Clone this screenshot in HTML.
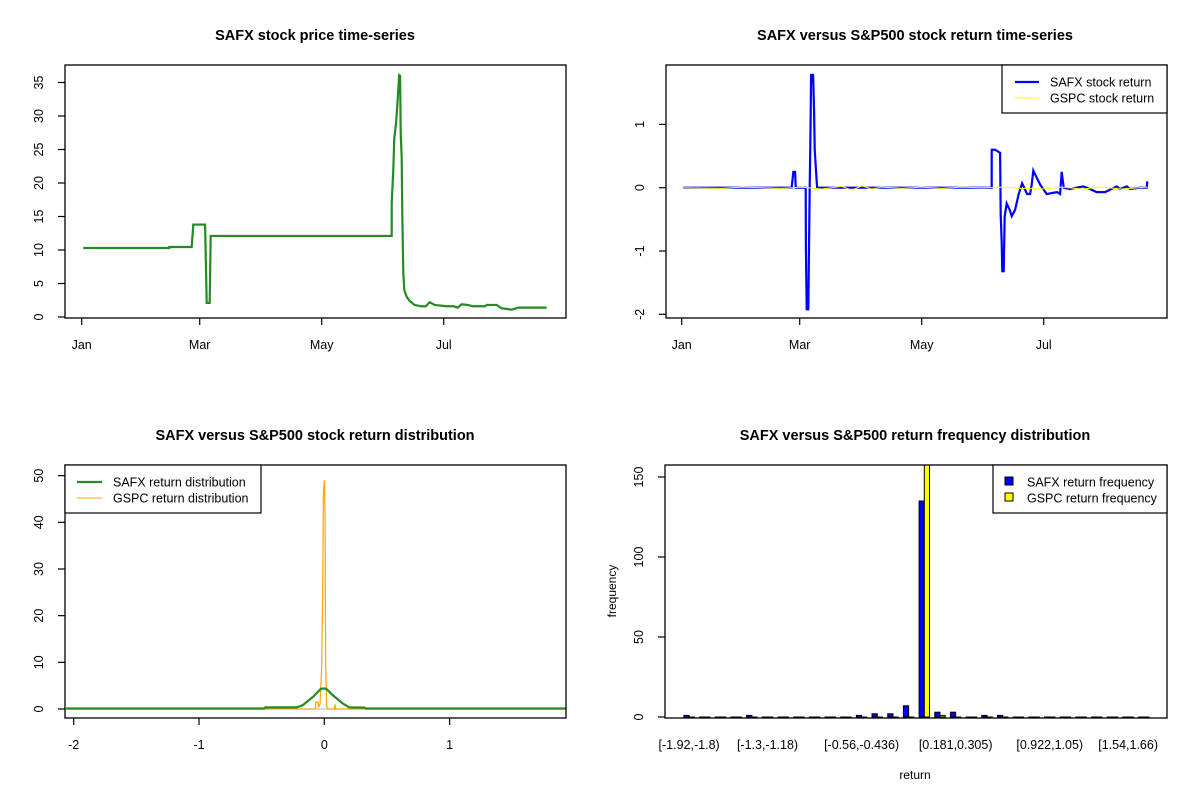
<!DOCTYPE html>
<html><head><meta charset="utf-8"><style>
html,body{margin:0;padding:0;background:#fff;}
svg{display:block;font-family:"Liberation Sans",Arial,sans-serif;}
</style></head><body>
<svg id="c" width="1200" height="800" viewBox="0 0 1200 800" xmlns="http://www.w3.org/2000/svg"></svg>
<script>
// ---- Panel 1: SAFX price (day of year, price)
const priceDays=[0.8,43.8,43.8,55,55.8,61.7,62.5,64,64.5,65,155,155,155.8,156.3,157.2,157.8,158.3,158.7,159.2,159.5,160,160.3,160.8,161.3,162.5,164,166.5,169.8,172,174,176.5,182.3,186,188,190,193,195.8,201.7,202.5,207.5,210,215,218.3,232.5];
const priceVals=[10.3,10.3,10.45,10.45,13.8,13.8,2.1,2.1,12.1,12.1,12.1,17,22,26.7,29,31.6,33.9,36.1,36,27.5,23.7,15.2,6.6,4,3,2.4,1.8,1.6,1.6,2.2,1.8,1.6,1.6,1.4,1.9,1.8,1.6,1.6,1.8,1.8,1.3,1.1,1.4,1.4];
const priceTicks=[0,5,10,15,20,25,30,35];
const monthDays=[0,59,120,181];
const monthLabels=["Jan","Mar","May","Jul"];
// ---- Panel 2: returns
const retDays=[0.8,55,55.8,56.7,57,62,62.1,62.5,63.3,64,64.4,64.7,65.7,66.2,66.5,67.7,155,155,156.7,159.2,159.5,160,160.3,161,161.5,162.5,164,165,166.7,168.5,170.2,172.7,174.2,175,175.8,179.2,182.5,187.5,188.3,189.2,190,191,194.2,200.8,204.2,207.5,211.7,217.5,219.2,222.5,224.2,229.2,232.5,232.8];
const retSafx=[0,0,0.25,0.25,0,0,-0.96,-1.92,-1.92,0,0.88,1.78,1.78,1.2,0.6,0,0,0.6,0.6,0.55,-0.42,-0.87,-1.32,-1.32,-0.45,-0.25,-0.35,-0.45,-0.35,-0.1,0.07,-0.1,-0.1,0.05,0.27,0.05,-0.1,-0.07,-0.08,-0.1,0.25,0,-0.02,0.02,-0.02,-0.07,-0.07,0.02,-0.02,0.02,-0.02,0,0,0.1];
const retGspcDays=[0.8,20,30,50,60,70,80,85,90,95,100,110,120,130,140,150,160,170,180,190,200,210,220,232.8];
const retGspc=[0,-0.01,0.01,-0.01,0.01,-0.02,0.02,-0.04,0.03,-0.02,0.01,-0.01,0.01,-0.01,0.01,0,0.01,-0.01,-0.02,0.01,-0.02,0.01,-0.02,0.01];
const retTicks=[-2,-1,0,1];
// ---- Panel 3: densities
const densSafxX=[-2.06,-0.48,-0.47,-0.22,-0.17,-0.09,-0.027,0.013,0.066,0.146,0.2,0.32,0.33,1.93];
const densSafxY=[0.1,0.1,0.35,0.35,0.85,2.6,4.35,4.4,3,1.2,0.35,0.3,0.1,0.1];
const densGspcX=[-2.06,-0.07,-0.068,-0.05,-0.045,-0.034,-0.021,-0.013,-0.0075,0.0005,0.006,0.011,0.019,0.03,0.08,0.085,0.09,1.93];
const densGspcY=[0,0,1.5,1.5,0.5,1,9,25,46,49,41,9,0.5,0,0,1,0,0];
const densTicksY=[0,10,20,30,40,50];
const densTicksX=[-2,-1,0,1];
// ---- Panel 4: frequency bars
const freqSafx=[1,0,0,0,1,0,0,0,0,0,0,1,2,2,7,135,3,3,0,1,1,0,0,0,0,0,0,0,0,0];
const freqGspc=[0,0,0,0,0,0,0,0,0,0,0,0,0,0,0,170,1,0,0,0,0,0,0,0,0,0,0,0,0,0];
const binLabelIdx=[0,5,11,17,23,28];
const binLabels=["[-1.92,-1.8)","[-1.3,-1.18)","[-0.56,-0.436)","[0.181,0.305)","[0.922,1.05)","[1.54,1.66)"];
const freqTicks=[0,50,100,150];

const NS="http://www.w3.org/2000/svg";
const svg=document.getElementById("c");
function mk(tag,attrs,parent,txt){const e=document.createElementNS(NS,tag);for(const k in attrs)e.setAttribute(k,attrs[k]);if(txt!==undefined)e.textContent=txt;(parent||svg).appendChild(e);return e;}
function poly(xs,ys,fx,fy){return xs.map((v,i)=>fx(v).toFixed(2)+","+fy(ys[i]).toFixed(2)).join(" ");}

const p1x=d=>81.7+d*2.0, p1y=v=>317-v*6.7;
const p2x=d=>681.7+d*2.0, p2y=v=>187.7-v*63.3;
const p3x=v=>324.3+v*125.3, p3y=v=>709-v*4.667;
const p4x=u=>665.3+(u+2.56)*5.226, p4y=v=>717-v*1.6;

function title(x,y,t,name){const e=mk("text",{x:x,y:y,"text-anchor":"middle","font-size":"14.5","font-weight":"bold"},svg,t);

}
function box(x1,y1,x2,y2,name){const e=mk("rect",{x:x1,y:y1,width:x2-x1,height:y2-y1,fill:"none",stroke:"#000","stroke-width":1.3});

}
function yaxis(ticks,fy,xb,name,fmt){const g=mk("g",{});


ticks.forEach(t=>{const y=fy(t);mk("line",{x1:xb-7,x2:xb,y1:y,y2:y,stroke:"#000","stroke-width":1.2},g);
const tx=mk("text",{x:xb-22,y:y,"text-anchor":"middle","font-size":"12.5",transform:`rotate(-90 ${xb-22} ${y})`},g,fmt?fmt(t):String(t));

});}
function xaxis(vals,labels,fx,yb,name){const g=mk("g",{});


vals.forEach((v,i)=>{const x=fx(v);mk("line",{x1:x,x2:x,y1:yb,y2:yb+7,stroke:"#000","stroke-width":1.2},g);
const tx=mk("text",{x:x,y:yb+31,"text-anchor":"middle","font-size":"12.5"},g,labels[i]);

});}

// ===== Panel 1
title(315,40,"SAFX stock price time-series","price-chart-title");
box(65,65,566,318,"price-plot-frame");
yaxis(priceTicks,p1y,65,"price-y-axis");
xaxis(monthDays,monthLabels,p1x,318,"price-x-axis");
const l1=mk("polyline",{points:poly(priceDays,priceVals,p1x,p1y),fill:"none",stroke:"#228B22","stroke-width":2.2});



// ===== Panel 2
title(915,40,"SAFX versus S&P500 stock return time-series","return-chart-title");
box(666,65,1167,318,"return-plot-frame");
yaxis(retTicks,p2y,666,"return-y-axis");
xaxis(monthDays,monthLabels,p2x,318,"return-x-axis");
const l2=mk("polyline",{points:poly(retDays,retSafx,p2x,p2y),fill:"none",stroke:"#0000FF","stroke-width":2.2});


const l2b=mk("polyline",{points:poly(retGspcDays,retGspc,p2x,p2y),fill:"none",stroke:"#FFFF00","stroke-width":1});


const lg2=mk("g",{});


mk("rect",{x:1002,y:65,width:165,height:48,fill:"#fff",stroke:"#000","stroke-width":1.2},lg2);
mk("line",{x1:1015,x2:1039,y1:82,y2:82,stroke:"#0000FF","stroke-width":2.2},lg2);
mk("line",{x1:1015,x2:1039,y1:98,y2:98,stroke:"#FFFF00","stroke-width":1},lg2);
mk("text",{x:1050,y:86.5,"font-size":"12.5"},lg2,"SAFX stock return");
mk("text",{x:1050,y:102.5,"font-size":"12.5"},lg2,"GSPC stock return");

// ===== Panel 3
title(315,440,"SAFX versus S&P500 stock return distribution","distribution-chart-title");
yaxis(densTicksY,p3y,65,"density-y-axis");
xaxis(densTicksX,densTicksX.map(String),p3x,718,"density-x-axis");
mk("clipPath",{id:"cp3"}).appendChild(mk("rect",{x:65,y:465,width:501,height:253}));
const g3=mk("g",{"clip-path":"url(#cp3)"});


mk("line",{x1:65,x2:566,y1:p3y(0),y2:p3y(0),stroke:"#bebebe","stroke-width":1},g3);
const l3b=mk("polyline",{points:poly(densGspcX,densGspcY,p3x,p3y),fill:"none",stroke:"#FFA500","stroke-width":1.2},g3);


const l3=mk("polyline",{points:poly(densSafxX,densSafxY,p3x,p3y),fill:"none",stroke:"#228B22","stroke-width":2.2},g3);


box(65,465,566,718,"density-plot-frame");
const lg3=mk("g",{});


mk("rect",{x:65,y:465,width:196,height:48,fill:"#fff",stroke:"#000","stroke-width":1.2},lg3);
mk("line",{x1:77,x2:102,y1:482,y2:482,stroke:"#228B22","stroke-width":2.2},lg3);
mk("line",{x1:77,x2:102,y1:498,y2:498,stroke:"#FFA500","stroke-width":1},lg3);
mk("text",{x:113,y:486.5,"font-size":"12.5"},lg3,"SAFX return distribution");
mk("text",{x:113,y:502.5,"font-size":"12.5"},lg3,"GSPC return distribution");

// ===== Panel 4
title(915,440,"SAFX versus S&P500 return frequency distribution","frequency-chart-title");
yaxis(freqTicks,p4y,665,"frequency-y-axis");
mk("clipPath",{id:"cp4"}).appendChild(mk("rect",{x:665,y:465,width:502,height:253}));
const g4=mk("g",{"clip-path":"url(#cp4)"});


freqSafx.forEach((v,i)=>{
  const u0=3*i+1;
  const b1=mk("rect",{x:p4x(u0),y:p4y(v),width:p4x(u0+1)-p4x(u0),height:Math.max(p4y(0)-p4y(v),0.01),fill:"#0000FF",stroke:"#000","stroke-width":1},g4);
  
  
  const w=freqGspc[i];
  const b2=mk("rect",{x:p4x(u0+1),y:p4y(w),width:p4x(u0+2)-p4x(u0+1),height:Math.max(p4y(0)-p4y(w),0.01),fill:"#FFFF00",stroke:"#000","stroke-width":1},g4);
  
  
});
box(665,465,1167,718,"frequency-plot-frame");
const gx4=mk("g",{});


binLabelIdx.forEach((bi,k)=>{mk("text",{x:p4x(3*bi+2),y:749,"text-anchor":"middle","font-size":"12.5"},gx4,binLabels[k]);});
const xt=mk("text",{x:915,y:779,"text-anchor":"middle","font-size":"12"},svg,"return");


const yt=mk("text",{x:616,y:591,"text-anchor":"middle","font-size":"12",transform:"rotate(-90 616 591)"},svg,"frequency");


const lg4=mk("g",{});


mk("rect",{x:993,y:465,width:174,height:48,fill:"#fff",stroke:"#000","stroke-width":1.2},lg4);
mk("rect",{x:1005,y:477,width:8,height:8,fill:"#0000FF",stroke:"#000","stroke-width":1},lg4);
mk("rect",{x:1005,y:493,width:8,height:8,fill:"#FFFF00",stroke:"#000","stroke-width":1},lg4);
mk("text",{x:1027,y:486.5,"font-size":"12.5"},lg4,"SAFX return frequency");
mk("text",{x:1027,y:502.5,"font-size":"12.5"},lg4,"GSPC return frequency");
</script>
</body></html>
